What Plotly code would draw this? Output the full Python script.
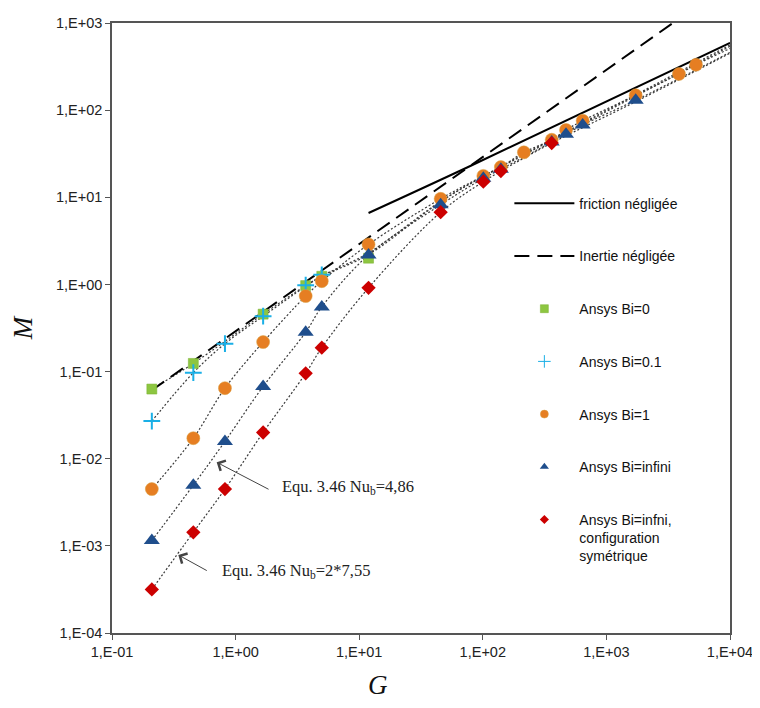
import plotly.graph_objects as go
import math

# ---------------- data ----------------
# Ansys Bi=0
g_bi0 = [0.21, 0.455, 1.67, 3.69, 4.98, 11.9]
m_bi0 = [0.063, 0.124, 0.456, 0.97, 1.24, 2.0]
# Ansys Bi=0.1
g_bi01 = [0.21, 0.455, 0.82, 1.67, 3.69, 4.98]
m_bi01 = [0.027, 0.097, 0.209, 0.432, 0.98, 1.29]
# Ansys Bi=1
g_bi1 = [0.21, 0.455, 0.82, 1.67, 3.69, 4.98, 11.9, 45.6, 101, 140, 215, 361, 471, 643, 1726, 3865, 5310]
m_bi1 = [0.00448, 0.0172, 0.0645, 0.218, 0.736, 1.09, 2.88, 9.6, 17.6, 22.2, 32.8, 45.7, 59.3, 75.7, 148, 260, 332]
# Ansys Bi=infini
g_binf = [0.21, 0.455, 0.82, 1.67, 3.69, 4.98, 11.9, 45.6, 101, 140, 361, 471, 643, 1726]
m_binf = [0.00115, 0.00497, 0.0158, 0.0675, 0.283, 0.552, 2.18, 8.2, 16.5, 21.0, 43.0, 53.0, 67.6, 130]
# Ansys Bi=infni, configuration symétrique
g_sym = [0.21, 0.455, 0.82, 1.67, 3.69, 4.98, 11.9, 45.6, 101, 140, 361]
m_sym = [0.000316, 0.00143, 0.00448, 0.020, 0.0955, 0.188, 0.914, 6.75, 15.1, 20.0, 41.9]

# model curves (Equ. 3.46)
cg_bi0 = [0.21, 0.455, 1.67, 3.69, 4.98, 11.9, 45.6, 101, 361, 1726, 10000]
cm_bi0 = [0.063, 0.124, 0.456, 0.97, 1.24, 2.2, 8.9, 17.5, 46, 150, 560]
cg_bi01 = [0.21, 0.455, 0.82, 1.67, 3.69, 4.98, 11.9, 45.6, 101, 361, 1726, 10000]
cm_bi01 = [0.027, 0.097, 0.209, 0.432, 0.95, 1.25, 2.3, 9.0, 17.3, 45, 145, 540]
cg_bi1 = g_bi1 + [10000]
cm_bi1 = m_bi1 + [510]
cg_binf = g_binf + [10000]
cm_binf = m_binf + [460]
cg_sym = g_sym + [1726, 10000]
cm_sym = m_sym + [125, 450]

# analytic limits
fric_g = [11.9, 80, 10000]
fric_m = [6.6, 23, 593]
inert_g = [0.21, 3450]
inert_m = [0.061, 1000]

x_tick_vals = [0.1, 1, 10, 100, 1000, 10000]
x_tick_text = ["1,E-01", "1,E+00", "1,E+01", "1,E+02", "1,E+03", "1,E+04"]
y_tick_vals = [1e-4, 1e-3, 1e-2, 1e-1, 1, 10, 100, 1000]
y_tick_text = ["1,E-04", "1,E-03", "1,E-02", "1,E-01", "1,E+00", "1,E+01", "1,E+02", "1,E+03"]

series_names = ["Ansys Bi=0", "Ansys Bi=0.1", "Ansys Bi=1", "Ansys Bi=infini",
                "Ansys Bi=infni,<br>configuration<br>symétrique"]

# ---------------- figure ----------------
fig = go.Figure()

dot_line = dict(color="#3a3a3a", width=1.2, dash="2px,2px")
for cg, cm in [(cg_bi0, cm_bi0), (cg_bi01, cm_bi01), (cg_bi1, cm_bi1), (cg_binf, cm_binf), (cg_sym, cm_sym)]:
    fig.add_trace(go.Scatter(x=cg, y=cm, mode="lines", line=dict(shape="spline", **dot_line),
                             showlegend=False, hoverinfo="skip"))

fig.add_trace(go.Scatter(x=fric_g, y=fric_m, mode="lines", name="friction négligée",
                         line=dict(color="black", width=2, shape="spline"), legendgroup="a"))
fig.add_trace(go.Scatter(x=inert_g, y=inert_m, mode="lines", name="Inertie négligée",
                         line=dict(color="black", width=2, dash="15px,8px"), legendgroup="b"))

styles = [
    dict(symbol="square", color="#8DC641", line=dict(color="#7AB030", width=0.5)),
    dict(symbol="cross-thin", color="#1AAFE6", line=dict(color="#1AAFE6", width=2)),
    dict(symbol="circle", color="#E67E22", line=dict(color="#D9A040", width=0.5)),
    dict(symbol="triangle-up", color="#1F4E8C"),
    dict(symbol="diamond", color="#CC0000"),
]
plot_sizes = [10, 12, 13, 14, 11]
legend_sizes = [8, 9, 8, 8, 7]
data = [(g_bi0, m_bi0), (g_bi01, m_bi01), (g_bi1, m_bi1), (g_binf, m_binf), (g_sym, m_sym)]
groups = ["c", "d", "e", "f", "g"]

for (gx, my), st, ps in zip(data, styles, plot_sizes):
    fig.add_trace(go.Scatter(x=gx, y=my, mode="markers", showlegend=False,
                             marker=dict(size=ps, **st)))
# legend entries (smaller symbols, as in the original legend)
for name, st, ls, grp in zip(series_names, styles, legend_sizes, groups):
    lst = dict(st)
    if st["symbol"] == "cross-thin":
        lst["line"] = dict(color="#1AAFE6", width=1)
    fig.add_trace(go.Scatter(x=[None], y=[None], mode="markers", name=name, legendgroup=grp,
                             marker=dict(size=ls, **lst)))

axis_common = dict(type="log", showline=True, linecolor="#555555", linewidth=1.5, mirror=True,
                   showgrid=False, zeroline=False, ticks="outside", ticklen=5, tickcolor="#555555",
                   tickfont=dict(family="Liberation Sans, Arial", size=14.5, color="#222222"))

fig.update_xaxes(range=[-1, 4], tickvals=x_tick_vals, ticktext=x_tick_text, **axis_common)
fig.update_yaxes(range=[-4, 3], tickvals=y_tick_vals, ticktext=y_tick_text,
                 title=dict(text="<i>M</i>", font=dict(family="Liberation Serif", size=27, color="#111"),
                            standoff=22), **axis_common)

# x axis title (placed left of centre as in the original)
fig.add_annotation(x=0.430, y=-0.085, xref="paper", yref="paper", text="<i>G</i>", showarrow=False,
                   xanchor="center", yanchor="middle",
                   font=dict(family="Liberation Serif", size=27, color="#111"))

ann_font = dict(family="Liberation Serif", size=16.5, color="#222222")
fig.add_annotation(x=math.log10(0.703), y=math.log10(0.0091), ax=math.log10(1.90), ay=math.log10(0.00437),
                   xref="x", yref="y", axref="x", ayref="y", text="", showarrow=True,
                   arrowhead=4, arrowsize=2.2, arrowwidth=1, arrowcolor="#444444")
fig.add_annotation(x=math.log10(2.29), y=math.log10(0.0047), xref="x", yref="y", xanchor="left",
                   text="Equ. 3.46 Nu<sub>b</sub>=4,86", showarrow=False, font=ann_font)
fig.add_annotation(x=math.log10(0.344), y=math.log10(0.000787), ax=math.log10(0.601), ay=math.log10(0.000509),
                   xref="x", yref="y", axref="x", ayref="y", text="", showarrow=True,
                   arrowhead=4, arrowsize=2.2, arrowwidth=1, arrowcolor="#444444")
fig.add_annotation(x=math.log10(0.748), y=math.log10(0.00052), xref="x", yref="y", xanchor="left",
                   text="Equ. 3.46 Nu<sub>b</sub>=2*7,55", showarrow=False, font=ann_font)

fig.update_layout(
    width=752, height=700,
    margin=dict(l=104, r=30, t=7, b=75),
    plot_bgcolor="white", paper_bgcolor="white",
    legend=dict(x=0.643, y=0.730, xanchor="left", yanchor="top", bgcolor="rgba(0,0,0,0)",
                font=dict(family="Liberation Sans, Arial", size=14, color="#111"),
                tracegroupgap=31.5, itemwidth=60, valign="top", traceorder="grouped"),
)

fig.write_html("out.html")
